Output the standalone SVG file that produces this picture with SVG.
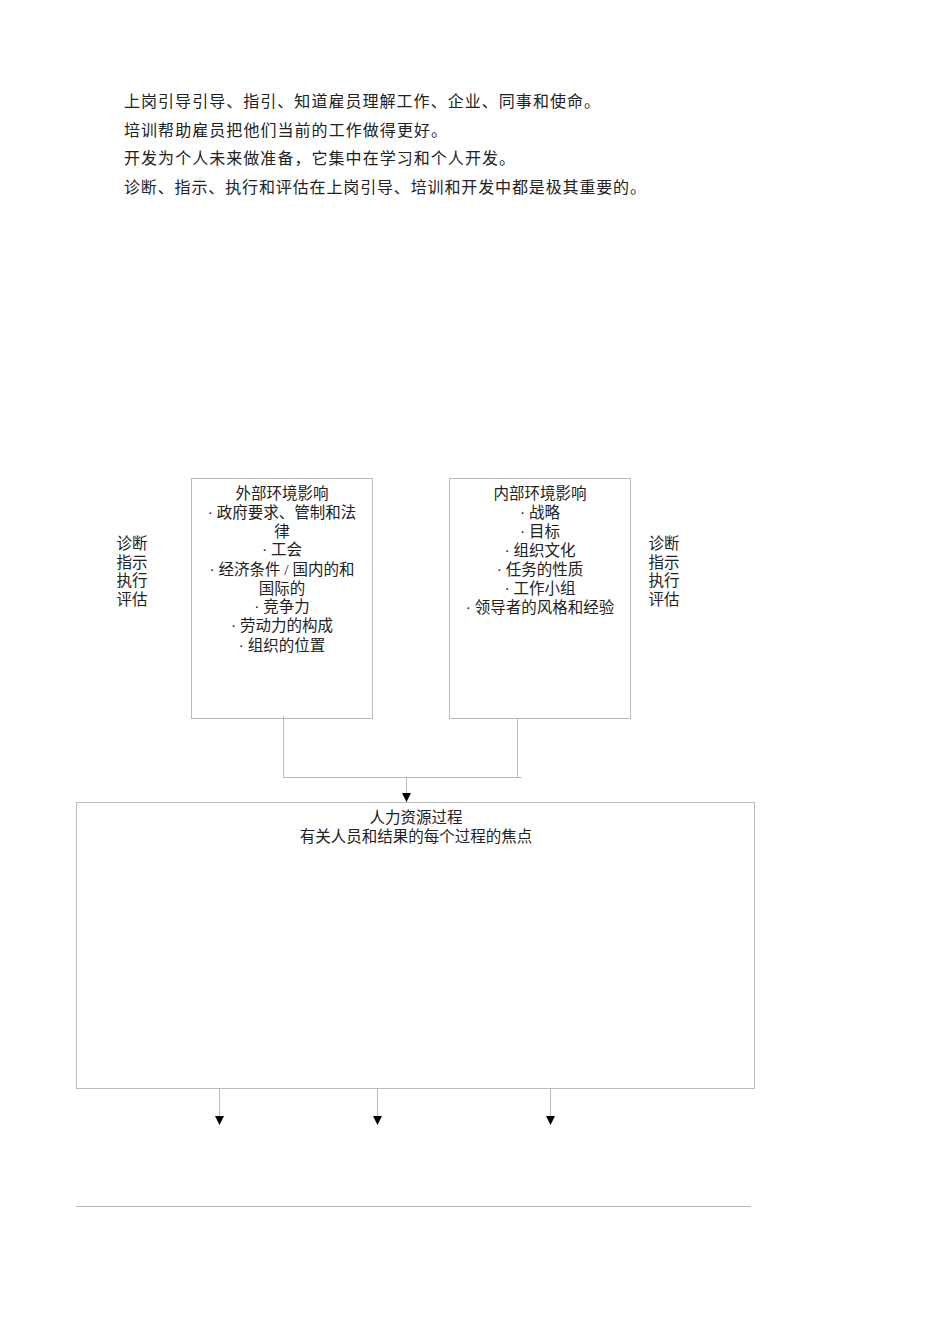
<svg xmlns="http://www.w3.org/2000/svg" width="950" height="1344" viewBox="0 0 950 1344">
<style>
.t{font-family:"Liberation Serif","Noto Sans CJK SC",serif;font-size:16px;fill:#222}
.b{font-family:"Liberation Serif","Noto Sans CJK SC",serif;font-size:15.5px;fill:#222;text-anchor:middle}
.box{fill:#fff;stroke:#bbb;stroke-width:1}
.ln{fill:none;stroke:#bbb;stroke-width:1}
</style>
<defs>
<marker id="ah" viewBox="0 0 9 9" refX="9" refY="4.5" markerWidth="9" markerHeight="9" markerUnits="userSpaceOnUse" orient="auto">
<path d="M0,0 L9,4.5 L0,9 Z" fill="#000"/>
</marker>
</defs>
<rect width="950" height="1344" fill="#fff"/>
<g id="intro">
<text class="t" x="124" y="107" textLength="476" lengthAdjust="spacing">上岗引导引导、指引、知道雇员理解工作、企业、同事和使命。</text>
<text class="t" x="124" y="136" textLength="323" lengthAdjust="spacing">培训帮助雇员把他们当前的工作做得更好。</text>
<text class="t" x="124" y="164" textLength="391" lengthAdjust="spacing">开发为个人未来做准备，它集中在学习和个人开发。</text>
<text class="t" x="124" y="193" textLength="522" lengthAdjust="spacing">诊断、指示、执行和评估在上岗引导、培训和开发中都是极其重要的。</text>
</g>
<g id="label-left">
<text class="b" x="132" y="549">诊断</text>
<text class="b" x="132" y="568">指示</text>
<text class="b" x="132" y="586">执行</text>
<text class="b" x="132" y="605">评估</text>
</g>
<g id="label-right">
<text class="b" x="664" y="549">诊断</text>
<text class="b" x="664" y="568">指示</text>
<text class="b" x="664" y="586">执行</text>
<text class="b" x="664" y="605">评估</text>
</g>
<g id="external">
<rect class="box" x="191.5" y="478.5" width="181" height="240"/>
<text class="b" x="282" y="499">外部环境影响</text>
<text class="b" x="282" y="518">· 政府要求、管制和法</text>
<text class="b" x="282" y="537">律</text>
<text class="b" x="282" y="555">· 工会</text>
<text class="b" x="282" y="575">· 经济条件 / 国内的和</text>
<text class="b" x="282" y="594">国际的</text>
<text class="b" x="282" y="612">· 竞争力</text>
<text class="b" x="282" y="631">· 劳动力的构成</text>
<text class="b" x="282" y="651">· 组织的位置</text>
</g>
<g id="internal">
<rect class="box" x="449.5" y="478.5" width="181" height="240"/>
<text class="b" x="540" y="499">内部环境影响</text>
<text class="b" x="540" y="518">· 战略</text>
<text class="b" x="540" y="537">· 目标</text>
<text class="b" x="540" y="556">· 组织文化</text>
<text class="b" x="540" y="575">· 任务的性质</text>
<text class="b" x="540" y="594">· 工作小组</text>
<text class="b" x="540" y="613">· 领导者的风格和经验</text>
</g>
<g id="hr-process">
<rect class="box" x="76.5" y="802.5" width="678" height="286"/>
<text class="b" x="416" y="823">人力资源过程</text>
<text class="b" x="416" y="842">有关人员和结果的每个过程的焦点</text>
</g>
<g id="connectors">
<path class="ln" d="M283.5,716 V777.5 H521.5"/>
<path class="ln" d="M517.5,719 V777.5"/>
<line class="ln" x1="406.5" y1="777.5" x2="406.5" y2="802" marker-end="url(#ah)"/>
<line class="ln" x1="219.5" y1="1088" x2="219.5" y2="1125" marker-end="url(#ah)"/>
<line class="ln" x1="377.5" y1="1088" x2="377.5" y2="1125" marker-end="url(#ah)"/>
<line class="ln" x1="550.5" y1="1088" x2="550.5" y2="1125" marker-end="url(#ah)"/>
</g>
<line class="ln" x1="76" y1="1206.5" x2="751" y2="1206.5"/>
</svg>
